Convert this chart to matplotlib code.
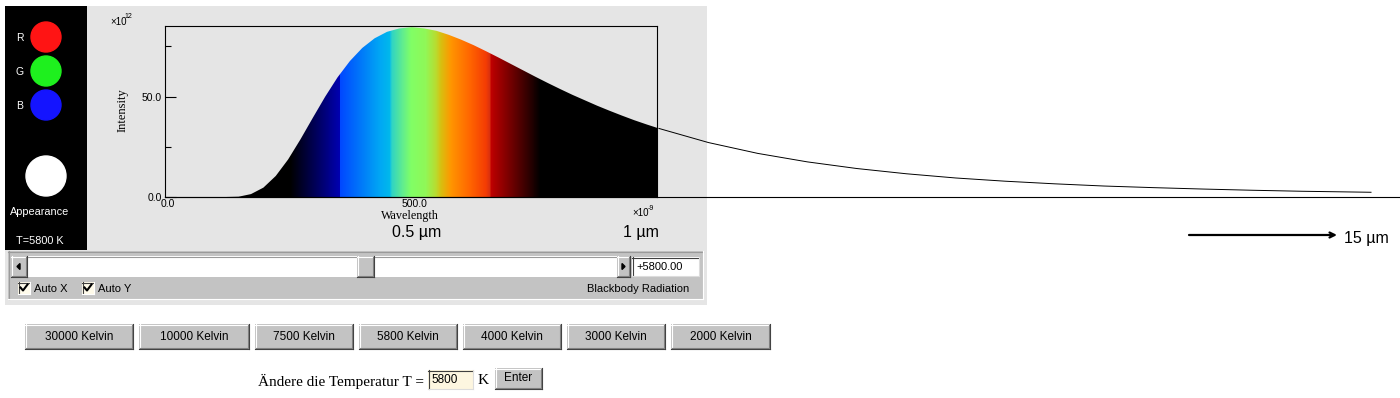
import numpy as np
import matplotlib.pyplot as plt
from matplotlib.patches import Rectangle, Circle, Polygon
from matplotlib.colors import to_rgb
from matplotlib.transforms import ScaledTranslation

# blackbody curve at T = 5800 K (nm, x10^12)
wavelength_nm = [0, 100, 150, 175, 200, 225, 250, 275, 300, 325, 350, 375, 400,
                 425, 450, 475, 500, 525, 550, 575, 600, 625, 650, 675, 700, 725,
                 750, 775, 800, 825, 850, 875, 900, 925, 950, 975, 1000]
intensity = [0, 0, 0.3, 1.6, 4.8, 10.6, 18.8, 28.8, 39.5, 50.0, 59.6, 67.7, 74.2,
             79.0, 82.2, 83.9, 84.5, 83.9, 82.7, 80.7, 78.3, 75.6, 72.6, 69.5, 66.3, 63.1,
             59.9, 56.8, 53.8, 50.9, 48.2, 45.5, 43.0, 40.6, 38.3, 36.2, 34.2]

# the part of the curve that runs out of the frame
tail_nm = [1000, 1100, 1200, 1300, 1400, 1500, 1600, 1700, 1800, 1900, 2000,
           2100, 2200, 2300, 2440]
tail_int = [34.2, 27.2, 21.8, 17.6, 14.3, 11.7, 9.6, 8.0, 6.7, 5.6, 4.8,
            4.1, 3.5, 3.0, 2.5]

# colour of the fill under the curve
band_nm = [0, 254, 353, 355, 436, 454, 459, 480, 497, 527, 548, 558, 578, 618,
           649, 657, 659, 760, 1000]
band_col = ['#000000', '#000000', '#0000b0', '#0048ff', '#00a8f4', '#00b8ec',
            '#30d4c4', '#60ec90', '#80ff66', '#90f858', '#b8dc30', '#d8c010',
            '#ff9600', '#ff6400', '#f43c04', '#d83010', '#c00000', '#000000', '#000000']

y_ticks = [0, 50]
y_labels = ['0.0', '50.0']
y_minor = [25, 75]
x_ticks = [0, 500]
x_labels = ['0.0', '500.0']

temps = [30000, 10000, 7500, 5800, 4000, 3000, 2000]
T = 5800

SANS = 'Liberation Sans'
SERIF = 'Liberation Serif'
plt.rcParams['font.family'] = SANS

fig = plt.figure(figsize=(14, 3.98), dpi=100)
fig.patch.set_facecolor('white')

# pixel canvas for the applet frame
bg = fig.add_axes([0, 0, 1, 1])
bg.set_xlim(0, 1400)
bg.set_ylim(398, 0)
bg.axis('off')


def box(x, y, w, h, fc, ec='none', lw=0.8, z=1):
    bg.add_patch(Rectangle((x, y), w, h, facecolor=fc, edgecolor=ec, linewidth=lw, zorder=z))


def edges(x, y, w, h, tl, br, z):
    bg.plot([x, x + w], [y + 0.5, y + 0.5], color=tl, lw=0.8, zorder=z)
    bg.plot([x + 0.5, x + 0.5], [y, y + h], color=tl, lw=0.8, zorder=z)
    bg.plot([x, x + w], [y + h - 0.5, y + h - 0.5], color=br, lw=0.8, zorder=z)
    bg.plot([x + w - 0.5, x + w - 0.5], [y, y + h], color=br, lw=0.8, zorder=z)


def bevel(x, y, w, h, fc='#c3c3c3', z=2):
    box(x, y, w, h, fc, z=z)
    edges(x, y, w, h, 'white', '#404040', z + 1)
    bg.plot([x + 1, x + w - 1], [y + h - 1.5, y + h - 1.5], color='#808080', lw=0.8, zorder=z + 1)
    bg.plot([x + w - 1.5, x + w - 1.5], [y + 1, y + h - 1], color='#808080', lw=0.8, zorder=z + 1)


# panels
box(5, 6, 702, 299, '#e5e5e5')
box(5, 6, 82, 244, 'black', z=2)
box(8, 251, 695, 48, '#c3c3c3', z=2)
edges(8, 251, 695, 48, '#9a9a9a', 'white', 3)

# colour dots
for cy, c, lab in [(37, '#ff1414', 'R'), (71, '#1ef01e', 'G'), (105, '#1414ff', 'B')]:
    bg.add_patch(Circle((46, cy), 15, color=c, zorder=3))
    bg.text(20, cy + 1, lab, color='white', fontsize=7.5, ha='center', va='center', zorder=4)
bg.add_patch(Circle((46, 176), 20, color='white', zorder=3))
bg.text(40, 212, 'Appearance', color='white', fontsize=7.8, ha='center', va='center', zorder=4)
bg.text(40, 241, f'T={T} K', color='white', fontsize=7.8, ha='center', va='center', zorder=4)

# scrollbar + value field
box(27, 256, 590, 21, 'white', z=3)
bg.plot([27, 617], [256.5, 256.5], color='#9a9a9a', lw=0.8, zorder=4)
bevel(11, 256, 16, 21, z=4)
bg.add_patch(Polygon([(17, 266.5), (20, 263.5), (20, 269.5)], color='black', zorder=6))
bevel(357, 256, 17, 21, z=4)
bevel(617, 256, 13, 21, z=4)
bg.add_patch(Polygon([(625, 266.5), (622, 263.5), (622, 269.5)], color='black', zorder=6))
box(632, 257, 67, 19, 'white', z=4)
edges(632, 257, 67, 19, '#404040', '#dcdcdc', 5)
bg.text(636, 267, f'+{T:.2f}', fontsize=8, ha='left', va='center', zorder=6)

# check boxes
for bx, lab in [(18, 'Auto X'), (82, 'Auto Y')]:
    box(bx, 282, 12, 12, '#fffbea', z=4)
    edges(bx, 282, 12, 12, '#404040', 'white', 5)
    bg.plot([bx + 2.5, bx + 5, bx + 9.5], [287.5, 290.5, 284.5], color='black', lw=1.5, zorder=6)
    bg.text(bx + 16, 289, lab, fontsize=8, ha='left', va='center', zorder=6)
bg.text(689, 289, 'Blackbody Radiation', fontsize=8, ha='right', va='center', zorder=6)

# temperature buttons
btn_x = [25, 139, 255, 359, 463, 567, 671]
btn_w = [108, 110, 98, 98, 98, 98, 99]
for t, bx, bw in zip(temps, btn_x, btn_w):
    bevel(bx, 324, bw, 25)
    bg.text(bx + bw / 2, 336.5, f'{t} Kelvin', fontsize=8.5, ha='center', va='center', zorder=5)

# input row
bg.text(424, 381, 'Ändere die Temperatur T =', family=SERIF, fontsize=11, ha='right', va='center')
box(428, 370, 45, 19, '#fdf6e0', z=2)
edges(428, 370, 45, 19, '#404040', '#dcdcdc', 3)
bg.text(431, 380, str(T), fontsize=8.5, ha='left', va='center', zorder=4)
bg.text(478, 381, 'K', family=SERIF, fontsize=11, ha='left', va='center')
bevel(495, 368, 47, 21)
bg.text(518.5, 378, 'Enter', fontsize=8.5, ha='center', va='center', zorder=5)

# axis annotations
bg.text(110, 22, '×10', fontsize=7, ha='left', va='center', zorder=4)
bg.text(124, 17, '12', fontsize=5, ha='left', va='center', zorder=4)
bg.text(123, 110, 'Intensity', family=SERIF, fontsize=9, rotation=90,
        ha='center', va='center', zorder=4)
bg.text(410, 216, 'Wavelength', family=SERIF, fontsize=8.7, ha='center', va='center', zorder=4)
bg.text(632, 213, '×10', fontsize=7, ha='left', va='center', zorder=4)
bg.text(648, 208, '-9', fontsize=5, ha='left', va='center', zorder=4)
bg.text(417, 233, '0.5 µm', fontsize=11.5, ha='center', va='center', zorder=4)
bg.text(641, 233, '1 µm', fontsize=11.5, ha='center', va='center', zorder=4)
bg.text(1366, 238, '15 µm', fontsize=11.5, ha='center', va='center', zorder=4)
bg.annotate('', xy=(1337, 235), xytext=(1189, 235),
            arrowprops=dict(arrowstyle='->', lw=1.6, color='black',
                            shrinkA=0, shrinkB=0, mutation_scale=9))

# the plot itself
ax = fig.add_axes([164.5 / 1400, 1 - 197.3 / 398, 492 / 1400, 171.3 / 398])
ax.set_facecolor('none')

grid = np.arange(0, 1001)
rgb = np.array([to_rgb(c) for c in band_col])
spectrum = np.stack([np.interp(grid, band_nm, rgb[:, k]) for k in range(3)], axis=-1)

verts = [(wavelength_nm[0], 0)] + list(zip(wavelength_nm, intensity)) + [(wavelength_nm[-1], 0)]
shape = Polygon(verts, closed=True, facecolor='none', edgecolor='none')
ax.add_patch(shape)
im = ax.imshow(spectrum[np.newaxis, :, :], extent=[0, 1000, 0, 90], aspect='auto',
               interpolation='nearest', origin='lower', zorder=1)
im.set_clip_path(shape)

ax.plot(tail_nm, tail_int, color='black', lw=0.7, clip_on=False, zorder=3)
ax.axhline(0, xmin=0, xmax=(1400 - 164.5) / 492, color='black', lw=0.8,
           clip_on=False, zorder=3)

ax.set_xlim(0, 995)
ax.set_ylim(0, 85.1)
for s in ax.spines.values():
    s.set_linewidth(0.8)

ax.set_yticks(y_ticks)
ax.set_yticklabels(y_labels)
ax.set_yticks(y_minor, minor=True)
ax.tick_params(axis='y', which='major', direction='in', length=8, width=0.8,
               pad=2, labelsize=7.5)
ax.tick_params(axis='y', which='minor', direction='in', length=4.5, width=0.8)
ax.set_xticks(x_ticks)
ax.set_xticklabels(x_labels)
ax.tick_params(axis='x', length=0, pad=1, labelsize=7.5)
for lbl in ax.get_xticklabels():
    lbl.set_transform(lbl.get_transform() + ScaledTranslation(3 / 100, 0, fig.dpi_scale_trans))

fig.savefig('out.png', dpi=100)
